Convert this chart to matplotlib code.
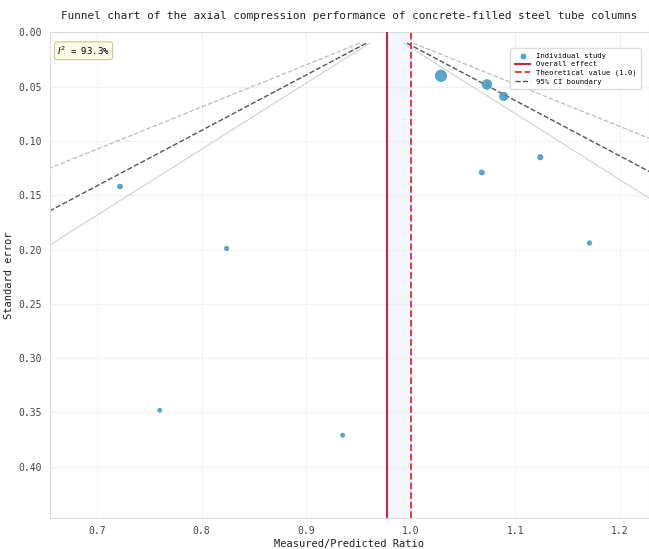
import numpy as np
import matplotlib
matplotlib.use("Agg")
import matplotlib.pyplot as plt

# study ratios (measured/predicted) and their standard errors
ratios = [0.722, 0.824, 0.760, 0.935, 1.029, 1.073, 1.089, 1.068, 1.124, 1.171]
std_err = [0.142, 0.199, 0.348, 0.371, 0.040, 0.048, 0.059, 0.129, 0.115, 0.194]
overall = 0.977
theoretical = 1.0
i2 = 93.3

plt.rcParams['font.family'] = ['DejaVu Sans Mono', 'DejaVu Sans']

fig = plt.figure(figsize=(6.49, 5.49), dpi=100)
ax = fig.add_axes([0.077, 0.057, 0.923, 0.884])

# grid, very faint
ax.grid(True, color='#f2f2f2', linewidth=0.8)
ax.set_axisbelow(True)
for s in ax.spines.values():
    s.set_color('#dddddd')
    s.set_linewidth(0.8)

se_line = np.linspace(0.01, 0.45, 50)
ax.plot(overall - 1.96 * se_line, se_line, '--', color='#555555', lw=1.0, zorder=2)
ax.plot(overall + 1.96 * se_line, se_line, '--', color='#555555', lw=1.0, zorder=2,
        label='95% CI boundary')
ax.plot(overall - 2.576 * se_line, se_line, '--', color='#bbbbbb', lw=0.9, zorder=2)
ax.plot(overall + 2.576 * se_line, se_line, '--', color='#bbbbbb', lw=0.9, zorder=2)
ax.plot(overall - 1.645 * se_line, se_line, '-', color='#d5d5d5', lw=0.9, zorder=2)
ax.plot(overall + 1.645 * se_line, se_line, '-', color='#d5d5d5', lw=0.9, zorder=2)

ax.axvspan(overall, theoretical, color='#e8eef8', alpha=0.5, zorder=1)

w = 1 / np.array(std_err) ** 2
sizes = 8 + 60 * w / w.max()
ax.scatter(ratios, std_err, s=sizes, color='#3d97c2', alpha=0.85,
           edgecolors='#3d97c2', linewidths=0.5, zorder=3, label='Individual study')

ax.axvline(overall, color='#c0284e', lw=1.5, zorder=4, label='Overall effect')
ax.axvline(theoretical, color='#e0302c', lw=1.3, ls='--', zorder=4,
           label='Theoretical value (1.0)')

ax.set_xlim(0.655, 1.228)
ax.set_ylim(0.447, 0.0)
ax.set_xticks([0.7, 0.8, 0.9, 1.0, 1.1, 1.2])
ax.set_yticks(np.arange(0, 0.41, 0.05))
ax.set_yticklabels([f'{v:.2f}' for v in np.arange(0, 0.41, 0.05)])
ax.tick_params(length=0, labelsize=7, labelcolor='#444444', pad=6)

ax.set_xlabel('Measured/Predicted Ratio', fontsize=7.5, labelpad=2, color='#222222')
ax.set_ylabel('Standard error', fontsize=7.5, labelpad=3, color='#222222')
ax.set_title('Funnel chart of the axial compression performance of concrete-filled steel tube columns',
             fontsize=7.9, pad=10, color='#222222')

ax.text(0.012, 0.975, f'$I^2$ = {i2}%', transform=ax.transAxes, fontsize=6.5,
        va='top', ha='left',
        bbox=dict(boxstyle='round,pad=0.3', fc='#fbfbe6', ec='#c8c890', lw=0.8))

h, l = ax.get_legend_handles_labels()
order = ['Individual study', 'Overall effect', 'Theoretical value (1.0)', '95% CI boundary']
hs = [h[l.index(o)] for o in order]
ax.legend(hs, order, loc='upper right', fontsize=5.2, frameon=True, framealpha=1,
          edgecolor='#dddddd', borderpad=0.6, labelspacing=0.35, handlelength=2.2,
          markerscale=0.6, bbox_to_anchor=(0.993, 0.975))

plt.savefig('out.png', dpi=100)
